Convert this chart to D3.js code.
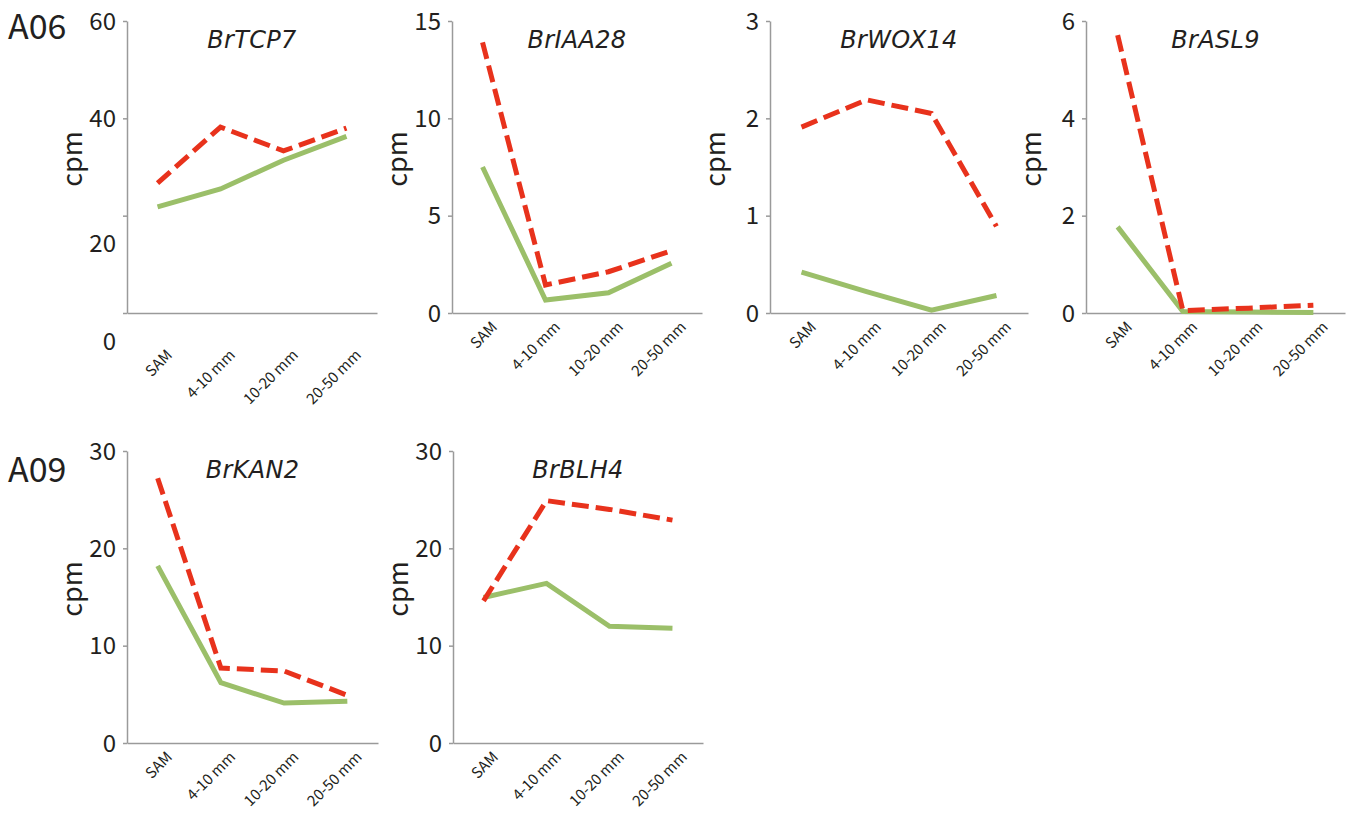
<!DOCTYPE html>
<html>
<head>
<meta charset="utf-8">
<script src="https://cdn.jsdelivr.net/npm/d3@7"></script>
<style>
  body { margin: 0; background: #fff; }
  svg { display: block; }
  .tick text { fill: #231f20; }
</style>
</head>
<body>
<svg id="chart" width="1353" height="818"></svg>
<script>
// stages on the x axis
const stages = ['SAM', '4-10 mm', '10-20 mm', '20-50 mm'];

// gene names, one per panel
const genes = ['BrTCP7', 'BrIAA28', 'BrWOX14', 'BrASL9', 'BrKAN2', 'BrBLH4'];
const chromosomes = ['A06', 'A09'];

// red dashed series (cpm)
const redValues = [
  [26.7, 38.2, 33.3, 38.0],
  [13.9, 1.44, 2.12, 3.2],
  [1.91, 2.19, 2.05, 0.89],
  [5.71, 0.05, 0.10, 0.16],
  [27.2, 7.7, 7.4, 4.9],
  [14.6, 24.9, 24.0, 22.9]
];

// green solid series (cpm)
const greenValues = [
  [21.8, 25.5, 31.4, 36.3],
  [7.5, 0.67, 1.04, 2.56],
  [0.42, 0.22, 0.03, 0.18],
  [1.77, 0.03, 0.02, 0.01],
  [18.2, 6.2, 4.1, 4.3],
  [14.95, 16.4, 12.0, 11.8]
];

const yMax = [60, 15, 3, 6, 30, 30];
const yTicks = [
  [0, 20, 40, 60],
  [0, 5, 10, 15],
  [0, 1, 2, 3],
  [0, 2, 4, 6],
  [0, 10, 20, 30],
  [0, 10, 20, 30]
];

// where each panel sits (axis corner and size)
const panels = [
  {left: 127, top: 21, w: 250, h: 292},
  {left: 452, top: 21, w: 250, h: 292},
  {left: 770, top: 21, w: 258, h: 292},
  {left: 1086, top: 21, w: 259, h: 292},
  {left: 127, top: 451, w: 251, h: 292},
  {left: 453, top: 451, w: 250, h: 292}
];

const RED = '#e8321c';
const GREEN = '#9bbf69';
const AXIS = '#9a9a9a';
const numFont = '"Noto Sans CJK JP", "Noto Sans", sans-serif';

const svg = d3.select('#chart');

svg.selectAll('text.chrom')
  .data(chromosomes)
  .enter().append('text')
  .attr('class', 'chrom')
  .attr('x', 8)
  .attr('y', (d, i) => i === 0 ? 39 : 482)
  .attr('font-family', numFont)
  .attr('font-size', 34)
  .attr('fill', '#231f20')
  .text(d => d);

genes.forEach((gene, i) => {
  const p = panels[i];
  const g = svg.append('g').attr('transform', 'translate(' + p.left + ',' + p.top + ')');

  const x = d3.scalePoint().domain(stages).range([0, p.w]).padding(0.485);
  const y = d3.scaleLinear().domain([0, yMax[i]]).range([p.h, 0]);

  // the first panel has its lower labels printed lower down
  const shift = i === 0 ? 28 : 0;

  const yAxis = g.append('g')
    .call(d3.axisLeft(y).tickValues(yTicks[i]).tickFormat(d3.format('d'))
      .tickSize(4).tickSizeOuter(0).tickPadding(7));
  yAxis.selectAll('path, line').attr('stroke', AXIS).attr('stroke-width', 1.5);
  yAxis.selectAll('text')
    .attr('font-family', numFont)
    .attr('font-size', 24)
    .attr('dy', d => (shift && d < 40) ? (shift + 8) + 'px' : '0.34em');

  const xAxis = g.append('g')
    .attr('transform', 'translate(0,' + p.h + ')')
    .call(d3.axisBottom(x).tickSize(0).tickSizeOuter(0).tickPadding(0));
  xAxis.select('path').attr('stroke', AXIS).attr('stroke-width', 1.5);
  xAxis.selectAll('text')
    .attr('font-family', numFont)
    .attr('font-size', 15)
    .attr('text-anchor', 'end')
    .attr('dy', null)
    .attr('y', 0)
    .attr('transform', 'translate(15,' + (15 + shift) + ') rotate(-45)');

  g.append('text')
    .attr('transform', 'translate(-45,' + (p.h / 2 - 8) + ') rotate(-90)')
    .attr('text-anchor', 'middle')
    .attr('font-family', numFont)
    .attr('font-size', 27)
    .attr('fill', '#231f20')
    .text('cpm');

  g.append('text')
    .attr('x', p.w / 2)
    .attr('y', 27)
    .attr('text-anchor', 'middle')
    .attr('font-family', '"DejaVu Sans", sans-serif')
    .attr('font-style', 'italic')
    .attr('font-size', 24)
    .attr('letter-spacing', 0.3)
    .attr('fill', '#231f20')
    .text(gene);

  const line = d3.line()
    .x((d, j) => x(stages[j]))
    .y(d => y(d));

  g.append('path')
    .datum(greenValues[i])
    .attr('d', line)
    .attr('fill', 'none')
    .attr('stroke', GREEN)
    .attr('stroke-width', 5);

  g.append('path')
    .datum(redValues[i])
    .attr('d', line)
    .attr('fill', 'none')
    .attr('stroke', RED)
    .attr('stroke-width', 5)
    .attr('stroke-dasharray', '17,7');
});
</script>
</body>
</html>
